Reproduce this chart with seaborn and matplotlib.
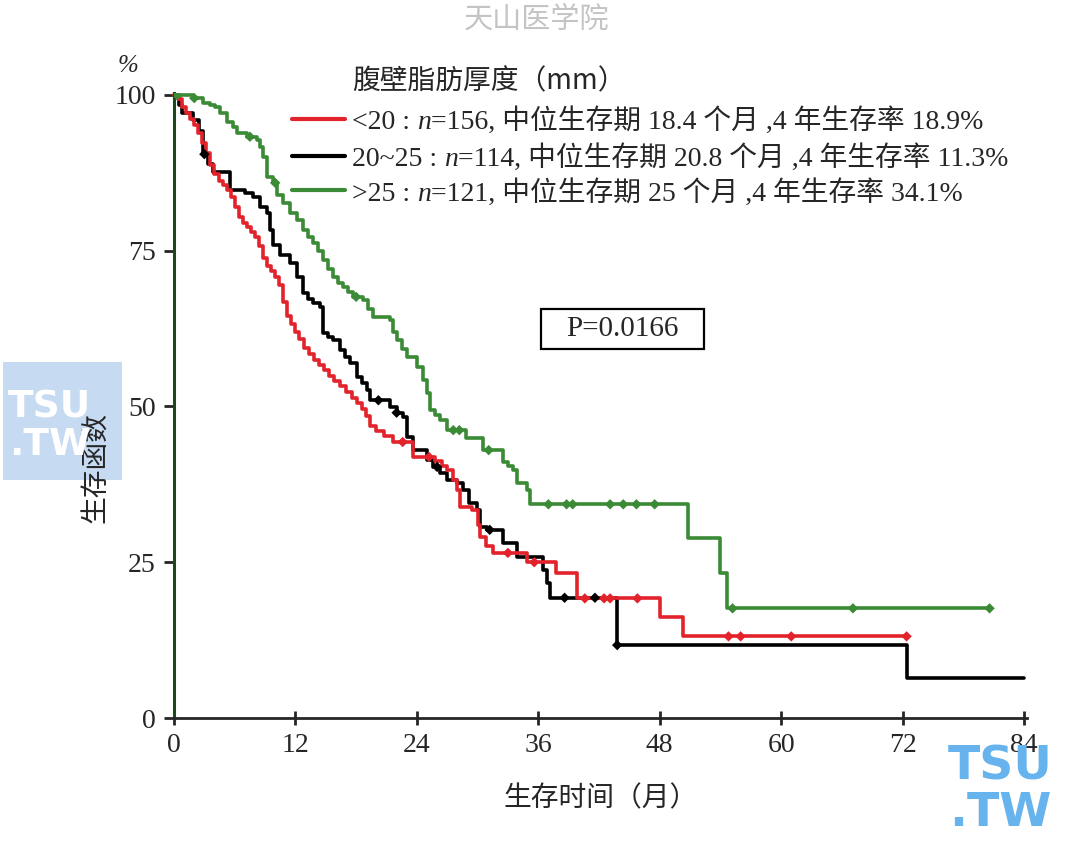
import matplotlib
matplotlib.use('Agg')
import matplotlib.pyplot as plt
from matplotlib.patches import Rectangle
import numpy as np
import pandas as pd
import seaborn as sns

# curvas de Kaplan-Meier (tempo em meses, sobrevida em %)
T_LT20 = [0, 0.4, 0.8, 1.2, 1.6, 2.0, 2.4, 2.8, 3.2, 3.6, 4.0, 4.4, 4.8, 5.2, 5.6, 6.0, 6.4, 6.8,
          7.2, 7.6, 8.0, 8.4, 8.8, 9.2, 9.6, 10.0, 10.4, 10.8, 11.2, 11.6, 12.0, 12.4, 12.8, 13.3,
          13.8, 14.3, 14.8, 15.3, 15.8, 16.4, 17.0, 17.6, 18.1, 18.6, 19.0, 19.4, 20.0, 20.8, 21.6,
          23.6, 25.8, 26.5, 27.0, 27.6, 28.0, 28.3, 29.5, 30.0, 30.2, 30.8, 31.5, 34.9, 37.8, 39.8,
          48.0, 50.3, 72.4]
S_LT20 = [100, 99.4, 98.1, 97.1, 96.2, 95.2, 93.9, 92.3, 90.7, 88.8, 87.3, 86.2, 85.5, 84.8, 83.6,
          82.0, 80.4, 79.4, 78.8, 78.0, 77.2, 75.8, 73.8, 72.6, 71.8, 70.8, 69.5, 66.8, 64.5, 63.2,
          62.0, 60.8, 59.4, 58.4, 57.5, 56.6, 55.8, 54.9, 54.1, 53.3, 52.4, 51.4, 50.5, 49.6, 48.4,
          46.8, 46.0, 45.3, 44.3, 41.9, 41.2, 40.4, 39.8, 38.2, 36.6, 33.9, 33.4, 31.0, 29.1, 27.6,
          26.5, 25.0, 23.3, 19.2, 16.2, 13.1, 13.1]
C_LT20 = [22.6, 25.2, 33.0, 35.6, 40.6, 42.5, 43.1, 45.8, 54.8, 56.0, 61.0, 72.4]

T_2025 = [0, 0.5, 0.8, 1.9, 2.5, 2.9, 3.4, 3.9, 5.5, 7.0, 7.8, 8.5, 9.2, 9.5, 9.8, 10.5, 11.5, 12.2,
          12.7, 13.2, 13.7, 14.4, 14.7, 15.2, 15.7, 16.4, 16.9, 17.4, 18.1, 18.6, 19.1, 19.4, 21.3,
          22.0, 22.6, 23.0, 23.6, 25.0, 25.6, 26.3, 27.0, 28.0, 28.6, 29.2, 29.9, 30.2, 30.9, 32.5,
          33.9, 36.5, 36.9, 37.2, 43.8, 72.4, 84.0]
S_2025 = [100, 98.4, 97.1, 96.0, 94.2, 90.5, 89.0, 87.6, 84.8, 84.3, 83.6, 82.0, 81.1, 78.3, 75.9,
          74.3, 73.0, 70.8, 68.2, 67.3, 66.6, 66.0, 61.8, 61.2, 60.7, 59.1, 58.0, 57.0, 54.7, 53.7,
          52.6, 51.0, 49.9, 49.0, 48.3, 45.1, 43.0, 41.4, 40.3, 39.3, 38.2, 37.7, 36.6, 34.5, 33.4,
          30.7, 30.2, 28.1, 25.8, 23.8, 21.7, 19.3, 11.7, 6.4, 6.4]
C_2025 = [3.0, 20.2, 22.0, 26.0, 31.2, 38.6, 41.6, 43.8]

T_GT25 = [0, 1.9, 2.9, 3.6, 4.1, 4.5, 5.2, 5.8, 6.2, 7.2, 8.2, 8.5, 8.8, 9.2, 9.8, 10.2, 10.8, 11.5,
          12.2, 12.7, 13.2, 13.7, 14.2, 14.7, 15.2, 15.7, 16.2, 16.7, 17.2, 17.7, 18.7, 19.2, 19.7,
          21.3, 21.6, 22.0, 22.5, 23.0, 24.0, 24.6, 25.0, 25.3, 25.8, 26.3, 27.0, 28.9, 30.5, 32.5,
          33.0, 33.5, 33.9, 34.9, 35.2, 50.8, 54.0, 54.7, 80.6]
S_GT25 = [100, 99.5, 98.7, 98.4, 98.1, 97.1, 95.7, 94.9, 93.9, 93.3, 92.8, 91.7, 90.0, 86.8, 85.9,
          83.9, 82.7, 81.1, 79.9, 78.3, 77.2, 76.2, 75.0, 73.5, 72.0, 70.8, 69.9, 69.2, 68.3, 67.6,
          67.1, 65.6, 64.4, 63.9, 62.0, 60.7, 59.2, 57.9, 56.3, 54.3, 52.2, 49.4, 48.6, 47.8, 46.2,
          44.9, 43.0, 41.1, 40.4, 39.8, 37.7, 36.6, 34.3, 28.9, 23.3, 17.6, 17.6]
C_GT25 = [0.3, 2.0, 7.5, 10.0, 18.0, 27.6, 28.2, 31.1, 37.0, 38.8, 39.4, 43.1, 44.4, 45.7, 47.5,
          55.2, 67.1, 80.6]

GRUPOS = ['<20', '20~25', '>25']
CORES = {'<20': '#e3232b', '20~25': '#000000', '>25': '#3b8a35'}
TITULO_LEGENDA = '腹壁脂肪厚度（mm）'
ROTULOS = [
    ['<20 : ', 'n', '=156, 中位生存期 18.4 个月 ,4 年生存率 18.9%'],
    ['20~25 : ', 'n', '=114, 中位生存期 20.8 个月 ,4 年生存率 11.3%'],
    ['>25 : ', 'n', '=121, 中位生存期 25 个月 ,4 年生存率 34.1%'],
]
XTICKS = [0, 12, 24, 36, 48, 60, 72, 84]
YTICKS = [0, 25, 50, 75, 100]


def sobrevida_em(tempos, sobrevidas, t):
    idx = np.searchsorted(np.array(tempos), t, side='right') - 1
    return sobrevidas[idx]


curvas = {'<20': (T_LT20, S_LT20, C_LT20), '20~25': (T_2025, S_2025, C_2025),
          '>25': (T_GT25, S_GT25, C_GT25)}

linhas = []
censuras = []
for g in GRUPOS:
    tt, ss, cc = curvas[g]
    for t, s in zip(tt, ss):
        linhas.append({'grupo': g, 't': t, 's': s})
    for t in cc:
        censuras.append({'grupo': g, 't': t, 's': sobrevida_em(tt, ss, t)})
df = pd.DataFrame(linhas)
df_c = pd.DataFrame(censuras)

sns.set_style('ticks')
plt.rcParams['font.family'] = ['Liberation Serif', 'Noto Sans CJK SC']
CJK = ['Noto Sans CJK SC', 'Liberation Serif']

fig = plt.figure(figsize=(10.7, 8.43), dpi=100)
ax = fig.add_axes([174 / 1070, 1 - 718 / 843, 853 / 1070, 625.5 / 843])

ordem = ['20~25', '>25', '<20']
sns.lineplot(data=df, x='t', y='s', hue='grupo', hue_order=ordem, palette=CORES,
             estimator=None, sort=False, drawstyle='steps-post', linewidth=2.6,
             legend=False, ax=ax)
sns.scatterplot(data=df_c, x='t', y='s', hue='grupo', hue_order=ordem, palette=CORES,
                marker='D', s=28, linewidth=0, legend=False, ax=ax, zorder=5)
for ln in ax.lines:
    ln.set_clip_on(False)

ax.set_xlim(0, 84.3)
ax.set_ylim(0, 100.4)
ax.set_xticks(XTICKS)
ax.set_yticks(YTICKS)
ax.tick_params(axis='x', direction='inout', length=10, width=2, pad=6, labelsize=20)
ax.tick_params(axis='y', direction='out', length=7, width=2, pad=6, labelsize=20)
sns.despine(ax=ax)
ax.spines['bottom'].set_linewidth(2)
ax.spines['left'].set_linewidth(2.2)
ax.spines['left'].set_color('#1f471d')

ax.set_xlabel('生存时间（月）', fontsize=20, family=CJK)
ax.set_ylabel('生存函数', fontsize=20, family=CJK)
ax.xaxis.set_label_coords(0.5, -0.105)
ax.yaxis.set_label_coords(-0.074, 0.40)

# caixa do valor P
ax.add_patch(Rectangle((0.4306, 0.5907), 0.1906, 0.0626, transform=ax.transAxes,
                       fill=False, edgecolor='black', linewidth=1.6, clip_on=False))
ax.text(0.526, 0.622, 'P=0.0166', transform=ax.transAxes, ha='center', va='center',
        fontsize=21)

fig.text(128 / 1070, 1 - 66 / 843, '%', ha='center', va='center', fontsize=18, style='italic')

# legenda manual (n em itálico)
fig.text(352 / 1070, 1 - 89 / 843, TITULO_LEGENDA, ha='left', va='baseline', fontsize=20,
         family=CJK)
renderer = fig.canvas.get_renderer()
inv = fig.transFigure.inverted()
y_base = [129, 166, 201]
y_linha = [119, 156, 190]
for g, partes, yb, yl in zip(GRUPOS, ROTULOS, y_base, y_linha):
    fig.add_artist(plt.Line2D([292 / 1070, 345 / 1070], [1 - yl / 843, 1 - yl / 843],
                              color=CORES[g], linewidth=3, transform=fig.transFigure))
    x = 352 / 1070
    for i, p in enumerate(partes):
        t = fig.text(x, 1 - yb / 843, p, ha='left', va='baseline', fontsize=20,
                     style='italic' if i == 1 else 'normal')
        bb = t.get_window_extent(renderer)
        x = inv.transform((bb.x1, bb.y0))[0]

# marcas d'água
fig.text(537 / 1070, 1 - 20 / 843, '天山医学院', ha='center', va='center', fontsize=21,
         color='#c4c4c4', family=CJK)
fig.add_artist(Rectangle((3 / 1070, 1 - 480 / 843), 119 / 1070, 118 / 843,
                         transform=fig.transFigure, facecolor='#c6daf2', edgecolor='none',
                         zorder=-1))
fig.text(50 / 1070, 1 - 408 / 843, 'TSU', ha='center', va='center', fontsize=27,
         color='white', weight='bold', family='DejaVu Sans', zorder=0)
fig.text(50 / 1070, 1 - 445 / 843, '.TW', ha='center', va='center', fontsize=27,
         color='white', weight='bold', family='DejaVu Sans', zorder=0)
fig.text(1000 / 1070, 1 - 767 / 843, 'TSU', ha='center', va='center', fontsize=34,
         color='#66b3ee', weight='bold', family='DejaVu Sans')
fig.text(1000 / 1070, 1 - 814 / 843, '.TW', ha='center', va='center', fontsize=34,
         color='#66b3ee', weight='bold', family='DejaVu Sans')

fig.savefig('out.png', dpi=100)
